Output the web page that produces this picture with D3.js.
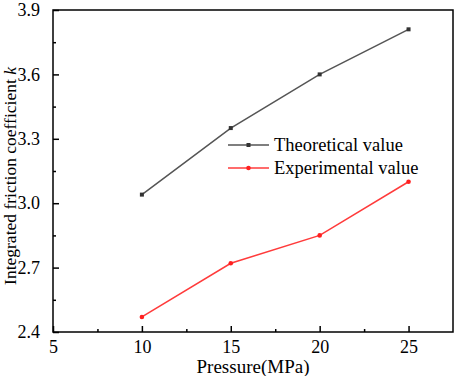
<!DOCTYPE html>
<html>
<head>
<meta charset="utf-8">
<script src="https://cdn.jsdelivr.net/npm/d3@7"></script>
<style>
  body { margin: 0; background: #fff; }
</style>
</head>
<body>
<div id="grafico"></div>
<script>
// Dados do grafico
const pressure     = [10, 15, 20, 25];
const theoretical  = [3.04, 3.35, 3.60, 3.81];
const experimental = [2.47, 2.72, 2.85, 3.10];
const xTicks = [5, 10, 15, 20, 25];
const yTicks = [2.4, 2.7, 3.0, 3.3, 3.6, 3.9];
const seriesNames = ["Theoretical value", "Experimental value"];

const width  = 457;
const height = 376;
const margin = { top: 10, right: 4, bottom: 44, left: 53 };
const fonte  = "'Liberation Serif', 'Times New Roman', serif";

const svg = d3.select("#grafico")
              .append("svg")
              .attr("width", width)
              .attr("height", height)
              .style("font-family", fonte);

// Escalas
const x = d3.scaleLinear()
            .domain([5, 27.5])
            .range([margin.left, width - margin.right]);

const y = d3.scaleLinear()
            .domain([2.4, 3.9])
            .range([height - margin.bottom, margin.top]);

// Ticks menores
const xMinor = d3.range(7.5, 27.5, 5);
const yMinor = d3.range(2.55, 3.9, 0.3);

// Eixo x
const xAxis = svg.append("g")
   .attr("transform", `translate(0, ${height - margin.bottom})`)
   .call(d3.axisBottom(x).tickValues(xTicks).tickSize(-6).tickPadding(8).tickFormat(d3.format("d")));
xAxis.style("font-family", fonte).attr("font-size", 18);
xAxis.select(".domain").remove();
xAxis.selectAll("text").attr("fill", "#000").style("font-family", fonte);
xAxis.selectAll("line").attr("stroke-width", 1.5);

svg.append("g")
   .attr("transform", `translate(0, ${height - margin.bottom})`)
   .call(d3.axisBottom(x).tickValues(xMinor).tickSize(-3).tickFormat(""))
   .call(g => g.select(".domain").remove())
   .selectAll("line").attr("stroke-width", 1.5);

// Eixo y
const yAxis = svg.append("g")
   .attr("transform", `translate(${margin.left}, 0)`)
   .call(d3.axisLeft(y).tickValues(yTicks).tickSize(-6).tickPadding(13).tickFormat(d3.format(".1f")));
yAxis.style("font-family", fonte).attr("font-size", 18);
yAxis.select(".domain").remove();
yAxis.selectAll("text").attr("fill", "#000").style("font-family", fonte);
yAxis.selectAll("line").attr("stroke-width", 1.5);

svg.append("g")
   .attr("transform", `translate(${margin.left}, 0)`)
   .call(d3.axisLeft(y).tickValues(yMinor).tickSize(-3).tickFormat(""))
   .call(g => g.select(".domain").remove())
   .selectAll("line").attr("stroke-width", 1.5);

// Moldura
svg.append("rect")
   .attr("x", margin.left)
   .attr("y", margin.top)
   .attr("width", width - margin.left - margin.right)
   .attr("height", height - margin.top - margin.bottom)
   .attr("fill", "none")
   .attr("stroke", "#000")
   .attr("stroke-width", 1.5);

// Titulos dos eixos
svg.append("text")
   .attr("x", (x(5) + x(27.5)) / 2)
   .attr("y", 372.5)
   .style("font-family", fonte)
   .attr("font-size", "19px")
   .attr("text-anchor", "middle")
   .text("Pressure(MPa)");

const yLabel = svg.append("text")
   .attr("transform", `translate(16, 176) rotate(-90)`)
   .style("font-family", fonte)
   .attr("font-size", "17.5px")
   .attr("text-anchor", "middle");
yLabel.append("tspan").text("Integrated friction coefficient ");
yLabel.append("tspan").attr("font-style", "italic").text("k");

// Linhas
const line = d3.line()
               .x((d, i) => x(pressure[i]))
               .y(d => y(d));

svg.append("path")
   .datum(theoretical)
   .attr("d", line)
   .attr("fill", "none")
   .attr("stroke", "#555")
   .attr("stroke-width", 1.5);

svg.append("path")
   .datum(experimental)
   .attr("d", line)
   .attr("fill", "none")
   .attr("stroke", "#ff3b3b")
   .attr("stroke-width", 1.5);

// Marcadores
svg.selectAll(".mk-t")
   .data(theoretical)
   .enter()
   .append("rect")
   .attr("x", (d, i) => x(pressure[i]) - 2)
   .attr("y", d => y(d) - 2)
   .attr("width", 4)
   .attr("height", 4)
   .attr("fill", "#333");

svg.selectAll(".mk-e")
   .data(experimental)
   .enter()
   .append("circle")
   .attr("cx", (d, i) => x(pressure[i]))
   .attr("cy", d => y(d))
   .attr("r", 2.3)
   .attr("fill", "#ff2020");

// Legenda
const legend = svg.append("g");
const legY = [145, 168];
const legColors = ["#555", "#ff3b3b"];

seriesNames.forEach((name, i) => {
  legend.append("line")
        .attr("x1", 228).attr("x2", 269)
        .attr("y1", legY[i]).attr("y2", legY[i])
        .attr("stroke", legColors[i])
        .attr("stroke-width", 1.5);
  if (i === 0) {
    legend.append("rect")
          .attr("x", 246.5).attr("y", legY[i] - 2)
          .attr("width", 4).attr("height", 4)
          .attr("fill", "#333");
  } else {
    legend.append("circle")
          .attr("cx", 248.5).attr("cy", legY[i])
          .attr("r", 2.3)
          .attr("fill", "#ff2020");
  }
  legend.append("text")
        .attr("x", 274)
        .attr("y", legY[i] + 6)
        .style("font-family", fonte)
        .attr("font-size", "18.5px")
        .text(name);
});
</script>
</body>
</html>
